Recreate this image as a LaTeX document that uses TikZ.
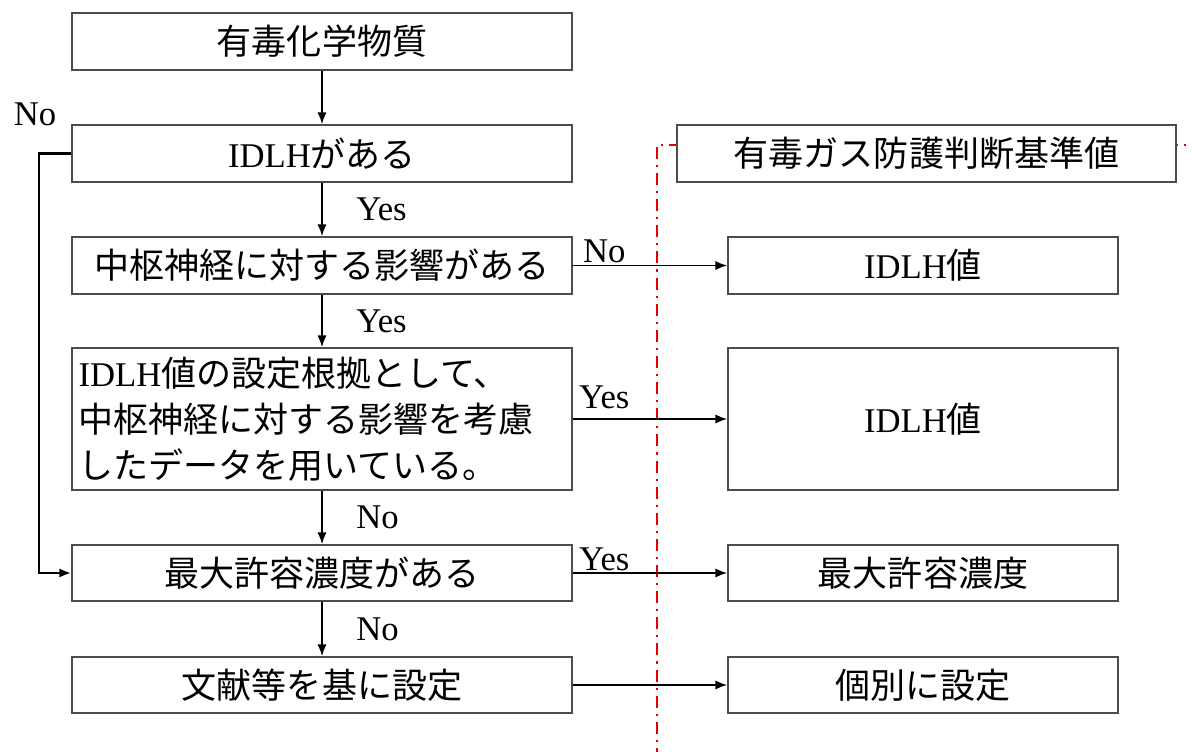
\documentclass[tikz,border=0pt]{standalone}
\usepackage{fontspec}
\setmainfont{Liberation Serif}
\newfontfamily\jp[Scale=1.01]{Noto Sans CJK JP}
\usetikzlibrary{arrows.meta}
\tikzset{
  box/.style={rectangle,draw=black!70,line width=1.1pt,fill=white,inner sep=0pt,
    minimum width=375pt,minimum height=42.75pt},
  rbox/.style={box,minimum width=292.5pt},
  arr/.style={line width=1.4pt,-{Latex[length=9pt,width=7pt]}},
  lab/.style={inner sep=1pt}
}
\begin{document}
\begin{tikzpicture}[x=0.75pt,y=-0.75pt,font=\fontsize{26}{30}\selectfont]
\useasboundingbox (0,0) rectangle (1192,752);
\fill[white] (0,0) rectangle (1192,752);

% red frame
\draw[red!90!black,line width=1.6pt,dash pattern=on 9pt off 4.5pt on 1.6pt off 4.5pt] (657,760) -- (657,145) -- (1186,145);

% left column
\node (a) [box] at (322,41.5) {\jp 有毒化学物質};
\node (b) [box] at (322,153.5) {IDLH{\jp がある}};
\node (c) [box] at (322,265.5) {{\jp 中枢神経に対する影響がある}};
\node (d) [box,minimum height=106.5pt,text width=365pt,inner xsep=5pt,align=left,
  font=\fontsize{26}{34.5}\selectfont] at (322,419)
  {IDLH{\jp 値の設定根拠として、}\\{\jp 中枢神経に対する影響を考慮}\\{\jp したデータを用いている。}};
\node (e) [box,minimum height=42pt] at (322,573) {\jp 最大許容濃度がある};
\node (f) [box,minimum height=42pt] at (322,685) {\jp 文献等を基に設定};

% right column
\node (r0) [box,minimum width=374.25pt] at (926.5,153.5) {\jp 有毒ガス防護判断基準値};
\node (r1) [rbox] at (923,265.5) {IDLH{\jp 値}};
\node (r2) [rbox,minimum height=106.5pt] at (923,419) {IDLH{\jp 値}};
\node (r3) [rbox,minimum height=42pt] at (923,573) {\jp 最大許容濃度};
\node (r4) [rbox,minimum height=42pt] at (923,685) {\jp 個別に設定};

% main flow
\draw [arr] (a)--(b);
\draw [arr] (b)-- node[lab,anchor=west,xshift=24pt]{Yes} (c);
\draw [arr] (c)-- node[lab,anchor=west,xshift=24pt]{Yes} (d);
\draw [arr] (d)-- node[lab,anchor=west,xshift=24pt]{No} (e);
\draw [arr] (e)-- node[lab,anchor=west,xshift=24pt]{No} (f);

% to the right
\draw [arr] (c.east)-- node[lab,pos=0,anchor=south west,xshift=6pt]{No} (r1.west);
\draw [arr] (d.east)-- node[lab,pos=0,anchor=south west,xshift=3pt,yshift=6pt]{Yes} (r2.west);
\draw [arr] (e.east)-- node[lab,pos=0,anchor=south west,xshift=3pt]{Yes} (r3.west);
\draw [arr] (f.east)--(r4.west);

% no IDLH
\coordinate (bend) at (39,153.5);
\node (nolab) [lab] at (35,114) {No};
\draw [arr,line width=2.2pt] (b.west)--(bend) |- (e.west);
\end{tikzpicture}
\end{document}
